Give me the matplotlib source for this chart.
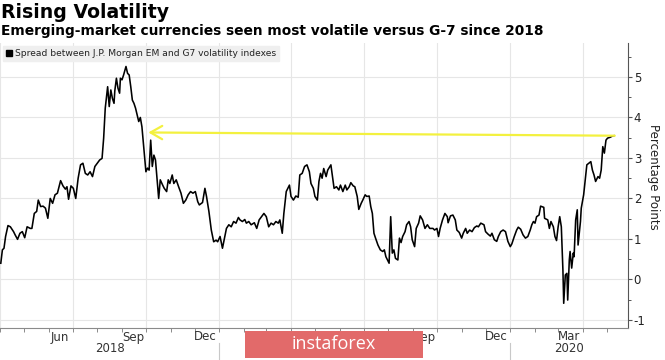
import numpy as np
import pandas as pd
import matplotlib
matplotlib.use("Agg")
import matplotlib.pyplot as plt
import matplotlib.dates as mdates
from matplotlib.patches import Rectangle, Patch
from matplotlib.lines import Line2D
from matplotlib.ticker import MultipleLocator
from matplotlib.transforms import blended_transform_factory

plt.rcParams["font.family"] = ["DejaVu Sans"]
plt.rcParams["axes.unicode_minus"] = False

# ---------------- data ----------------
start_date = pd.Timestamp("2018-04-01")
day_offset = [
    1, 3, 5, 7, 10, 13, 17, 19, 22, 25, 28, 31, 34, 38, 40, 43, 46, 48, 51, 54, 57, 60, 63, 66, 69, 72,
    76, 79, 82, 84, 86, 89, 92, 95, 98, 101, 104, 107, 110, 113, 116, 119, 122, 125, 128, 130, 132, 135,
    137, 139, 141, 143, 144, 146, 148, 150, 151, 153, 155, 158, 160, 162, 164, 166, 168, 170, 172, 174,
    176, 178, 181, 183, 185, 187, 189, 191, 193, 195, 197, 199, 201, 204, 206, 209, 211, 213, 216, 218,
    221, 224, 227, 230, 233, 236, 239, 242, 245, 248, 250, 254, 257, 259, 262, 265, 268, 271, 273, 276,
    279, 282, 284, 287, 290, 293, 296, 299, 301, 304, 307, 309, 312, 315, 319, 322, 325, 328, 331, 334,
    337, 340, 343, 346, 349, 351, 354, 356, 359, 363, 365, 368, 371, 374, 376, 379, 382, 385, 388, 390,
    393, 395, 398, 400, 402, 404, 406, 409, 411, 414,
    415, 417, 419, 422, 425, 427, 430, 433, 435, 438, 440, 443, 445, 448, 450, 453, 455, 458, 460, 463,
    465, 467, 469, 471, 474, 477, 480, 482, 484, 486, 488, 490, 492, 494, 496, 499, 501, 503, 505, 508,
    510, 513, 515, 517, 520, 522, 525, 527, 530, 533, 536, 539, 543, 545, 548, 550, 552, 555, 558, 561,
    562, 565, 568, 571, 573, 576, 579, 581, 584, 586, 589, 592, 595, 598, 600, 603, 607, 609, 612, 615,
    617, 620, 623, 625, 628, 631, 634, 637, 640, 642, 645, 648, 650, 653, 656, 659, 662, 665, 667, 669,
    671, 673, 676,
    678, 682, 683, 687, 689, 691, 694, 696, 698, 700, 702, 704, 706, 707, 709, 711, 712, 714, 715, 717,
    719, 720, 722, 724, 725, 728, 729, 732, 734, 736, 739, 741, 743, 745, 747, 750, 752, 754, 756, 758,
    760, 762, 765, 768, 770,
]
spread = [
    0.40, 0.73, 0.77, 1.06, 1.33, 1.30, 1.18, 1.10, 0.99, 1.14, 1.18, 1.03, 1.30, 1.26, 1.26, 1.63, 1.68,
    1.96, 1.80, 1.81, 1.76, 1.51, 2.00, 1.88, 2.09, 2.13,
    2.44, 2.31, 2.23, 2.29, 1.98, 2.31, 2.25, 2.00, 2.50, 2.83, 2.87, 2.62, 2.58, 2.66, 2.54, 2.79, 2.87,
    2.95, 2.99, 3.49, 4.23, 4.76,
    4.27, 4.68, 4.47, 4.35, 4.66, 4.97, 4.72, 4.60, 4.97, 4.93, 5.05, 5.26, 5.09, 5.05, 4.76, 4.43, 4.35,
    4.23, 4.06, 3.90,
    4.00, 3.77, 3.11, 2.66, 2.75, 2.70, 3.44, 2.79, 3.07, 2.95, 2.46, 2.00, 2.46, 2.33, 2.25, 2.17, 2.46,
    2.37, 2.58, 2.37,
    2.46, 2.29, 2.13, 1.88, 1.96, 2.09, 2.17, 2.13, 2.17, 1.92, 1.84, 1.90, 2.25, 2.05, 1.68, 1.22, 0.93,
    0.97, 0.93, 1.06,
    0.77, 1.06, 1.26, 1.35, 1.30, 1.43, 1.39, 1.53, 1.47, 1.43, 1.48, 1.39, 1.43, 1.35, 1.40, 1.26, 1.47,
    1.55, 1.63, 1.55,
    1.30, 1.39, 1.35, 1.43, 1.39, 1.47, 1.14, 1.63, 2.17, 2.33, 2.05, 1.96, 2.06, 2.03, 2.58, 2.62, 2.79,
    2.83, 2.66, 2.37,
    2.25, 2.05, 1.96, 2.42, 2.62, 2.50, 2.74, 2.54, 2.70, 2.80,
    2.83, 2.54, 2.25, 2.29, 2.21, 2.33, 2.17, 2.33, 2.21, 2.29, 2.39, 2.31, 2.29, 2.05, 1.73, 1.88, 1.96,
    2.09, 2.05, 2.06,
    1.80, 1.63, 1.14, 1.02, 0.85, 0.73, 0.69, 0.73, 0.56, 0.48, 0.40, 1.55, 0.65, 0.73, 0.52, 0.48, 1.02,
    0.91, 1.06, 1.18,
    1.35, 1.43, 1.30, 0.98, 0.81, 1.26, 1.39, 1.57, 1.47, 1.26, 1.35, 1.26, 1.26, 1.22, 1.26, 1.06, 1.26,
    1.47, 1.63, 1.55,
    1.40, 1.57, 1.59, 1.47, 1.22, 1.16, 1.02, 1.14, 1.26, 1.14, 1.22, 1.18, 1.28, 1.32, 1.30, 1.39, 1.35,
    1.18, 1.12, 1.07,
    1.14, 0.98, 0.94, 1.06, 1.18, 1.22, 1.18, 0.94, 0.81, 0.88, 1.06, 1.22, 1.29, 1.24, 1.10, 1.02, 1.06,
    1.22, 1.35, 1.43,
    1.39, 1.55, 1.59,
    1.81, 1.78, 1.51, 1.47, 1.26, 1.43, 1.30, 1.06, 0.96, 1.30, 1.55, 1.30, 0.23, -0.59, 0.11, 0.15, -0.51,
    0.48, 0.69, 0.28,
    0.65, 0.56, 1.47, 1.72, 0.85, 1.43, 1.76, 2.09, 2.46, 2.83, 2.88, 2.91, 2.70, 2.58, 2.42, 2.54, 2.50,
    2.70, 3.28, 3.12,
    3.44, 3.49, 3.51, 3.54, 3.55,
]

title = "Rising Volatility"
subtitle = "Emerging-market currencies seen most volatile versus G-7 since 2018"
legend_label = "Spread between J.P. Morgan EM and G7 volatility indexes"
y_label = "Percentage Points"
y_ticks = [-1, 0, 1, 2, 3, 4, 5]
# month labels visible in the reference (2019 Mar/Jun and the "2019" label are hidden by the watermark)
month_label_dates = ["2018-06-15", "2018-09-15", "2018-12-15",
                     "2019-09-15", "2019-12-15", "2020-03-15"]
month_label_text = ["Jun", "Sep", "Dec", "Sep", "Dec", "Mar"]
year_text = ["2018", "", "2020"]
year_breaks = ["2019-01-01", "2020-01-01"]
x_range = ["2018-04-01", "2020-05-27"]
y_range = [-1.2, 5.84]
arrow_tip = ("2018-10-04", 3.63)
arrow_tail = ("2020-05-11", 3.55)
watermark = "instaforex"

# ---------------- figure ----------------
dates = start_date + pd.to_timedelta(day_offset, unit="D")

W, H = 665, 360
fig = plt.figure(figsize=(W / 100, H / 100), dpi=100)
fig.patch.set_facecolor("white")
ax = fig.add_axes([0, 1 - 328 / H, 627.5 / W, (328 - 43) / H])

x0, x1 = (pd.Timestamp(d) for d in x_range)
ax.set_xlim(x0, x1)
ax.set_ylim(*y_range)

ax.plot(dates, spread, color="black", lw=1.15, zorder=3)

# arrow
ax.annotate("", xy=(pd.Timestamp(arrow_tip[0]), arrow_tip[1]),
            xytext=(pd.Timestamp(arrow_tail[0]), arrow_tail[1]),
            arrowprops=dict(arrowstyle="->,head_length=0.7,head_width=0.4",
                            color="#f3f13f", lw=1.6, shrinkA=0, shrinkB=0,
                            mutation_scale=12), zorder=4)

# axes styling
for s in ["left", "top"]:
    ax.spines[s].set_visible(False)
ax.spines["right"].set_color("#555555")
ax.spines["right"].set_linewidth(0.8)
ax.spines["bottom"].set_color("#8a8a8a")
ax.spines["bottom"].set_linewidth(0.8)

ax.xaxis.set_major_locator(mdates.MonthLocator(bymonth=[1, 4, 7, 10]))
ax.xaxis.set_minor_locator(mdates.MonthLocator())
ax.tick_params(axis="x", which="both", direction="out", length=3, width=0.7,
               color="#8a8a8a", labelbottom=False)

ax.yaxis.tick_right()
ax.set_yticks(y_ticks)
ax.yaxis.set_minor_locator(MultipleLocator(0.5))
ax.tick_params(axis="y", which="major", length=3, width=0.8, color="#555555",
               pad=1.5, labelsize=8.5, labelcolor="#222222")
ax.tick_params(axis="y", which="minor", length=2, width=0.7, color="#555555")

ax.grid(True, which="major", color="#e6e6e6", lw=0.8)
ax.set_axisbelow(True)

ax.yaxis.set_label_position("right")
ax.set_ylabel(y_label, rotation=270, fontsize=8.5, color="#222222",
              ha="center", va="center", rotation_mode="default")
ax.yaxis.set_label_coords(653 / 627.5, (328 - 177) / (328 - 43))

# month / year labels below the axis
trans = blended_transform_factory(ax.transData, fig.transFigure)
for d, t in zip(month_label_dates, month_label_text):
    ax.text(mdates.date2num(pd.Timestamp(d)), 1 - 337 / H, t, transform=trans,
            ha="center", va="center", fontsize=8.5, color="#333333")
edges = [x0] + [pd.Timestamp(b) for b in year_breaks] + [x1]
for i, t in enumerate(year_text):
    if not t:
        continue
    mid = mdates.date2num(edges[i]) + (mdates.date2num(edges[i + 1]) - mdates.date2num(edges[i])) / 2
    ax.text(mid, 1 - 349 / H, t, transform=trans, ha="center", va="center",
            fontsize=8.5, color="#333333")
for b in year_breaks:
    xb = mdates.date2num(pd.Timestamp(b))
    fig.add_artist(Line2D([xb, xb], [0, 1 - 343 / H], transform=trans,
                          color="#c8c8c8", lw=0.8))

# legend
handle = Patch(facecolor="black", edgecolor="black")
leg = ax.legend([handle], [legend_label], loc="upper left",
                bbox_to_anchor=(3 / W, 1 - 46 / H), bbox_transform=fig.transFigure,
                borderaxespad=0, frameon=True, fancybox=False, framealpha=1,
                facecolor="#efefef", edgecolor="#efefef", fontsize=6.6,
                handlelength=0.6, handleheight=0.6, handletextpad=0.35,
                borderpad=0.35, labelcolor="#222222")
leg.set_zorder(5)

# titles
fig.text(0.001, 1 - 18.5 / H, title, fontsize=13.6, fontweight="bold",
         ha="left", va="baseline", color="black")
fig.text(0.001, 1 - 34.5 / H, subtitle, fontsize=9.95, fontweight="bold",
         ha="left", va="baseline", color="black")

# watermark overlay
fig.add_artist(Rectangle((245 / W, 2 / H), 178 / W, 27 / H, transform=fig.transFigure,
                         facecolor="#e26a6a", edgecolor="none", zorder=20))
fig.text(334 / W, 1 - 344 / H, watermark, color="white", fontsize=13,
         family=["Open Sans", "DejaVu Sans"], ha="center", va="center", zorder=21)

fig.savefig("out.png", dpi=100, facecolor="white")
